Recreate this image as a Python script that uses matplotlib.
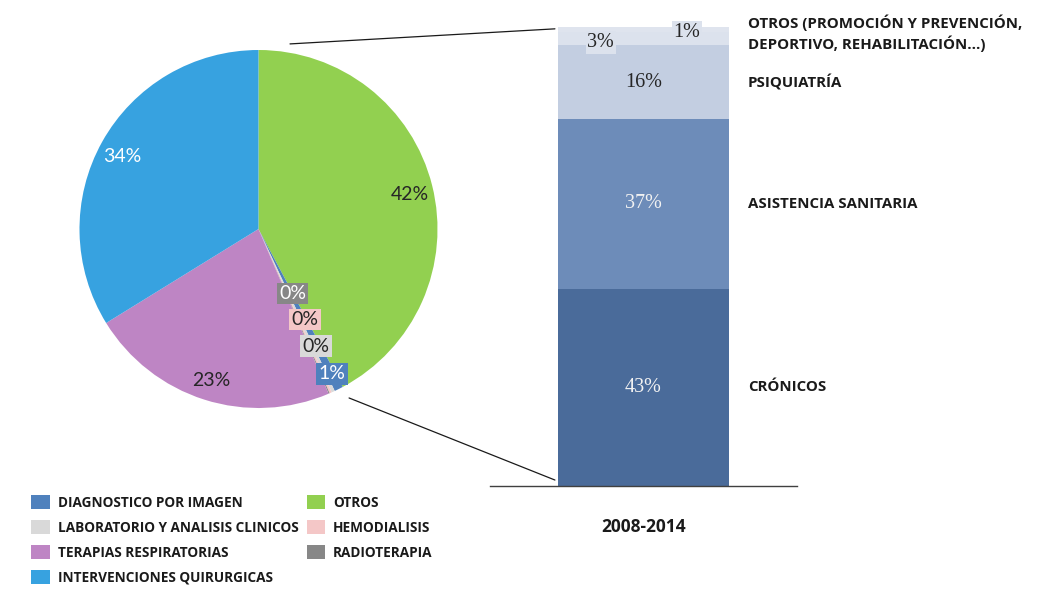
import numpy as np
import matplotlib
matplotlib.use("Agg")
import matplotlib.pyplot as plt
from matplotlib.patches import ConnectionPatch, Patch

# Pie data (clockwise from top)
pie_names = ["OTROS", "DIAGNOSTICO POR IMAGEN", "LABORATORIO Y ANALISIS CLINICOS",
             "HEMODIALISIS", "RADIOTERAPIA", "TERAPIAS RESPIRATORIAS",
             "INTERVENCIONES QUIRURGICAS"]
pie_values = [42.2, 0.8, 0.3, 0.2, 0.1, 22.6, 33.8]
pie_labels = ["42%", "1%", "0%", "0%", "0%", "23%", "34%"]
pie_colors = ["#92d050", "#4f81bd", "#d9d9d9", "#f4c7c7", "#878787", "#be85c4", "#37a2e0"]
pie_text_colors = ["#262626", "white", "#262626", "#262626", "white", "#262626", "white"]

# Stacked bar data (bottom to top)
bar_names = ["CRÓNICOS", "ASISTENCIA SANITARIA", "PSIQUIATRÍA",
             "OTROS (PROMOCIÓN Y PREVENCIÓN,\nDEPORTIVO, REHABILITACIÓN...)", ""]
bar_values = [43, 37, 16, 3, 1]
bar_labels = ["43%", "37%", "16%", "3%", "1%"]
bar_colors = ["#4a6b9a", "#6d8cb9", "#c3cee1", "#dce2ed", "#dfe4ee"]
bar_text_colors = ["#f2f2f2", "#f2f2f2", "#262626", "#262626", "#262626"]
bar_category = "2008-2014"

fig = plt.figure(figsize=(10.55, 5.90), dpi=100)
W, H = 1055, 590

# ---- pie ----
cx, cy, R = 258.5, 229, 179
half = 200
ax_pie = fig.add_axes([(cx - half) / W, (H - cy - half) / H, 2 * half / W, 2 * half / H])
ax_pie.axis("off")
wedges, _ = ax_pie.pie(pie_values, colors=pie_colors, startangle=90, counterclock=False,
                       radius=1, wedgeprops=dict(linewidth=0))
ax_pie.set_xlim(-half / R, half / R)
ax_pie.set_ylim(-half / R, half / R)

# label positions for the tiny slices (stacked near the edge)
small_pos = {1: (0.41, -0.81), 2: (0.32, -0.655), 3: (0.26, -0.505), 4: (0.19, -0.36)}
for i, w in enumerate(wedges):
    if i in small_pos:
        x, y = small_pos[i]
        ax_pie.text(x, y, pie_labels[i], ha="center", va="center", fontsize=14,
                    family="Lato", color=pie_text_colors[i],
                    bbox=dict(boxstyle="square,pad=0.12", fc=pie_colors[i], ec="none"))
    else:
        ang = np.deg2rad((w.theta1 + w.theta2) / 2)
        ax_pie.text(0.87 * np.cos(ang), 0.87 * np.sin(ang) - 0.02, pie_labels[i], ha="center",
                    va="center", fontsize=14, family="Lato", color=pie_text_colors[i])

# ---- stacked bar ----
bx0, bx1, by0, by1 = 490, 797, 486, 27
ax_bar = fig.add_axes([bx0 / W, (H - by0) / H, (bx1 - bx0) / W, (by0 - by1) / H])
ax_bar.set_xlim(0, 1)
ax_bar.set_ylim(0, 100)
bw = 171 / (bx1 - bx0)
bxc = (643.5 - bx0) / (bx1 - bx0)
bottom = 0
for v, c in zip(bar_values, bar_colors):
    ax_bar.bar(bxc, v, width=bw, bottom=bottom, color=c, linewidth=0)
    bottom += v

cum = np.cumsum([0] + bar_values)
mids = [(cum[i] + cum[i + 1]) / 2 for i in range(len(bar_values))]
for i in range(3):
    ax_bar.text(bxc, mids[i], bar_labels[i], ha="center", va="center", fontsize=14.5,
                family="Liberation Serif", color=bar_text_colors[i])
# small top segments: offset labels
ax_bar.text(bxc - 0.14, 96.6, bar_labels[3], ha="center", va="center", fontsize=14.5,
            family="Liberation Serif", color="#262626",
            bbox=dict(boxstyle="square,pad=0.08", fc="#dce2ed", ec="none"))
ax_bar.text(bxc + 0.142, 98.9, bar_labels[4], ha="center", va="center", fontsize=14.5,
            family="Liberation Serif", color="#262626",
            bbox=dict(boxstyle="square,pad=0.08", fc="#dce2ed", ec="none"))

name_x = (748 - bx0) / (bx1 - bx0)
for i in range(4):
    y = mids[i] if i < 3 else (cum[3] + cum[5]) / 2 + 0.6
    ax_bar.text(name_x, y, bar_names[i], ha="left", va="center", fontsize=10.8,
                family="Open Sans", fontweight="bold", color="#1a1a1a",
                linespacing=1.3, clip_on=False)

for s in ["top", "right", "left"]:
    ax_bar.spines[s].set_visible(False)
ax_bar.spines["bottom"].set_color("#404040")
ax_bar.spines["bottom"].set_linewidth(1.0)
ax_bar.set_yticks([])
ax_bar.set_xticks([bxc])
ax_bar.set_xticklabels([bar_category], fontsize=12.5, family="Open Sans", fontweight="bold",
                       color="#1a1a1a")
ax_bar.tick_params(axis="x", length=0, pad=23)

# connector lines pie -> bar
bar_left = bxc - bw / 2
for xyA, yb in [((0.176, 1.034), 99.6), ((0.506, -0.944), 1.3)]:
    con = ConnectionPatch(xyA=xyA, coordsA=ax_pie.transData,
                          xyB=(bar_left - 0.01, yb), coordsB=ax_bar.transData,
                          color="#1a1a1a", linewidth=0.9)
    fig.add_artist(con)

# ---- legend ----
order = [1, 2, 5, 6, 0, 3, 4]
handles = [Patch(facecolor=pie_colors[i], edgecolor="none") for i in order]
labels = [pie_names[i] for i in order]
fig.legend(handles, labels, ncol=2, loc="upper left", bbox_to_anchor=(19 / W, 1 - 483 / H),
           frameon=False, prop={"family": "Open Sans", "weight": "bold", "size": 9.8},
           handlelength=1.35, handleheight=1.15, handletextpad=0.6, columnspacing=0.6,
           labelspacing=0.78, labelcolor="#1a1a1a")

fig.savefig("out.png", dpi=100)
